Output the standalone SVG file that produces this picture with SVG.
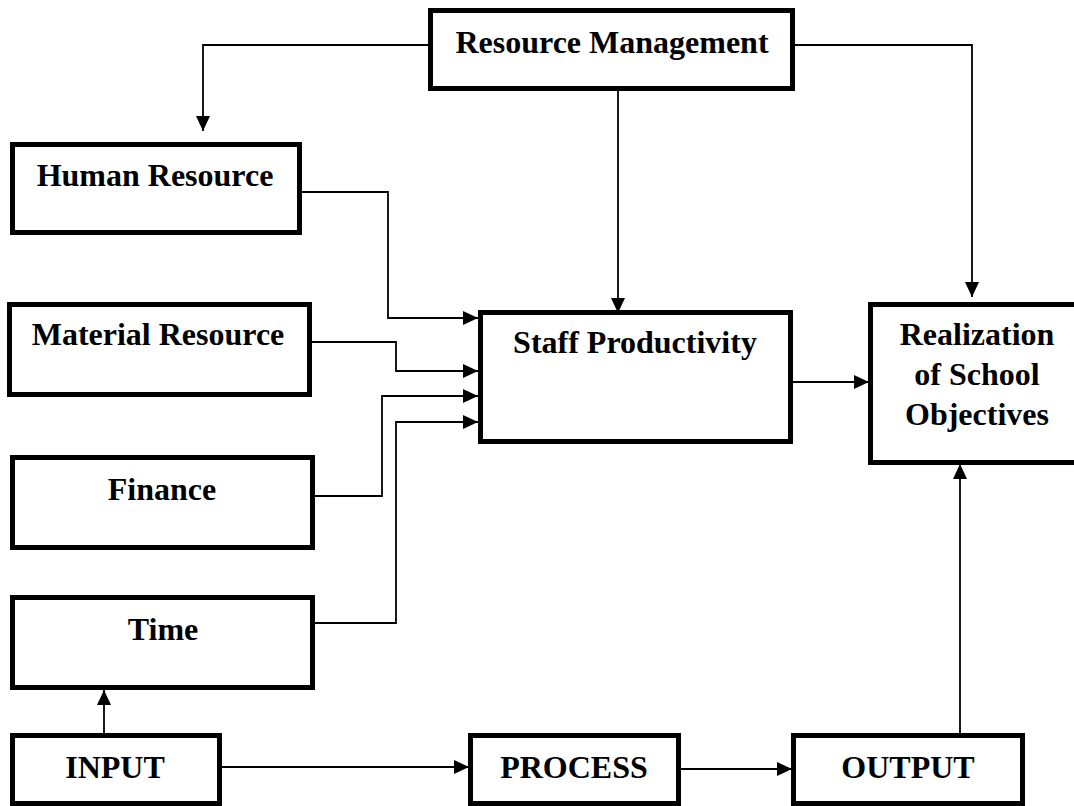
<svg xmlns="http://www.w3.org/2000/svg" width="1074" height="806" viewBox="0 0 1074 806">
  <style>
    .box { fill: #ffffff; stroke: #000000; stroke-width: 5; }
    .label { font-family: "Liberation Serif", "Times New Roman", serif; font-weight: bold; font-size: 32px; fill: #000000; text-anchor: middle; }
    .link { fill: none; stroke: #000000; stroke-width: 1.8; marker-end: url(#arrow); }
  </style>
  <defs>
    <marker id="arrow" markerUnits="userSpaceOnUse" markerWidth="15" markerHeight="14" refX="15" refY="7" orient="auto">
      <path d="M0,0 L15,7 L0,14 Z" fill="#000000"/>
    </marker>
  </defs>
  <rect width="1074" height="806" fill="#ffffff"/>

  <g id="resource-management">
    <rect class="box" x="430.5" y="10.5" width="362" height="78"/>
    <text class="label" x="612" y="53">Resource Management</text>
  </g>
  <g id="human-resource">
    <rect class="box" x="12.5" y="144.5" width="287" height="88"/>
    <text class="label" x="155" y="186">Human Resource</text>
  </g>
  <g id="material-resource">
    <rect class="box" x="9.5" y="304.5" width="300" height="90"/>
    <text class="label" x="158" y="345">Material Resource</text>
  </g>
  <g id="finance">
    <rect class="box" x="12.5" y="457.5" width="300" height="90"/>
    <text class="label" x="162" y="500">Finance</text>
  </g>
  <g id="time">
    <rect class="box" x="12.5" y="597.5" width="300" height="90"/>
    <text class="label" x="163" y="640">Time</text>
  </g>
  <g id="staff-productivity">
    <rect class="box" x="480.5" y="312.5" width="310" height="129"/>
    <text class="label" x="635" y="353">Staff Productivity</text>
  </g>
  <g id="realization">
    <rect class="box" x="870.5" y="304.5" width="210" height="158"/>
    <text class="label" x="977" y="345">Realization</text>
    <text class="label" x="977" y="385">of School</text>
    <text class="label" x="977" y="425">Objectives</text>
  </g>
  <g id="input">
    <rect class="box" x="12.5" y="735.5" width="207" height="68"/>
    <text class="label" x="115" y="778">INPUT</text>
  </g>
  <g id="process">
    <rect class="box" x="470.5" y="735.5" width="208" height="68"/>
    <text class="label" x="574" y="778">PROCESS</text>
  </g>
  <g id="output">
    <rect class="box" x="793.5" y="735.5" width="229" height="68"/>
    <text class="label" x="908" y="778">OUTPUT</text>
  </g>

  <g id="connectors">
    <path class="link" d="M428,45 H203 V131"/>
    <path class="link" d="M618,91 V313"/>
    <path class="link" d="M795,45 H972 V297"/>
    <path class="link" d="M302,192 H388 V318 H478"/>
    <path class="link" d="M312,342 H396 V371 H478"/>
    <path class="link" d="M315,496 H382 V396 H478"/>
    <path class="link" d="M315,623 H396 V422 H478"/>
    <path class="link" d="M793,382 H869"/>
    <path class="link" d="M960,733 V464"/>
    <path class="link" d="M104,733 V690"/>
    <path class="link" d="M222,767 H469"/>
    <path class="link" d="M681,769 H792"/>
  </g>
</svg>
